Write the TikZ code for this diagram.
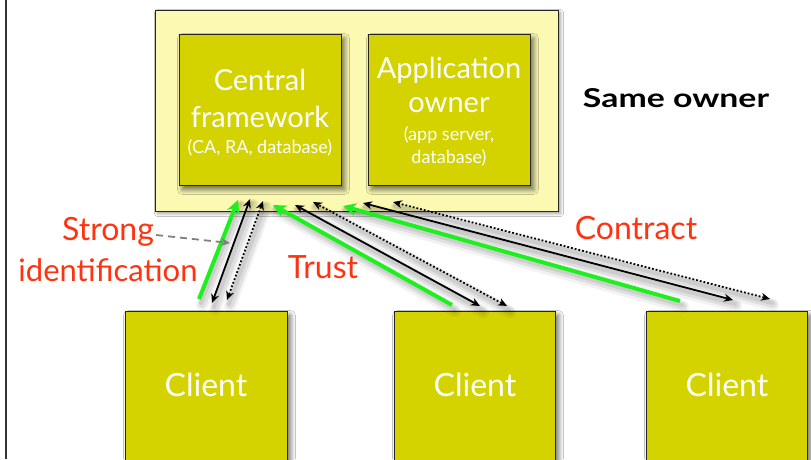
\documentclass[tikz,border=0pt]{standalone}
\usepackage{fontspec}
\setmainfont{Lato}
\usetikzlibrary{arrows.meta,shadows.blur}
\definecolor{boxfill}{HTML}{D4D300}
\definecolor{outerfill}{HTML}{FCF9B3}
\definecolor{lblred}{HTML}{FF3310}
\definecolor{arrgreen}{HTML}{1EF01E}
\begin{document}
\begin{tikzpicture}[x=1pt,y=-1pt,
  outerbox/.style={draw=black!85,line width=1pt,fill=outerfill,inner sep=0,anchor=north west,blur shadow={shadow xshift=2pt,shadow yshift=-2pt,shadow blur radius=3pt,shadow blur steps=6,shadow opacity=40}},
  innerbox/.style={draw=black!85,line width=1pt,fill=boxfill,inner sep=0,anchor=north west,blur shadow={shadow xshift=3pt,shadow yshift=-4pt,shadow blur radius=5pt,shadow blur steps=10,shadow opacity=60}},
  bigtxt/.style={text=white,font=\fontsize{29}{30}\selectfont,inner sep=0},
  smalltxt/.style={text=white,font=\fontsize{18}{19}\selectfont,inner sep=0},
  clienttxt/.style={text=white,font=\fontsize{32}{33}\selectfont,inner sep=0},
  redtxt/.style={text=lblred,font=\fontsize{32}{33}\selectfont,inner sep=0},
  greenarr/.style={draw=arrgreen,line width=4pt,-{Stealth[length=13pt,width=13pt]}},
  blackarr/.style={draw=black,line width=1.8pt,{Stealth[length=9pt,width=8pt]}-{Stealth[length=9pt,width=8pt]}},
  dotarr/.style={draw=black,line width=1.8pt,dotted,{Stealth[length=9pt,width=8pt,line width=0pt]}-{Stealth[length=9pt,width=8pt]}},
  shadowline/.style={draw=black,line width=8pt,opacity=0.08,line cap=round},
]
\useasboundingbox (0,0) rectangle (811,459);
\clip (0,0) rectangle (811,459);
\fill[white] (0,0) rectangle (811,459);
\draw[line width=1.4pt,black!80] (6,0) -- (6,459);

% boxes
\node[outerbox,minimum width=403pt,minimum height=201pt] (own) at (155,10) {};
\node[innerbox,minimum width=162pt,minimum height=151pt] (cf) at (179,34) {};
\node[innerbox,minimum width=162pt,minimum height=151pt] (ao) at (368,34) {};
\node[innerbox,minimum width=162pt,minimum height=170pt] (c1) at (125,311) {};
\node[innerbox,minimum width=161pt,minimum height=170pt] (c2) at (394,311) {};
\node[innerbox,minimum width=161pt,minimum height=170pt] (c3) at (646,311) {};

% texts
\node[bigtxt] (t1) at (260,80) {Central};
\node[bigtxt] (t2) at (260,117) {framework};
\node[smalltxt] (t3) at (260,148) {(CA, RA, database)};
\node[bigtxt] (t4) at (449,70) {Application};
\node[bigtxt] (t5) at (449,105) {owner};
\node[smalltxt] (t6) at (449,135) {(app server,};
\node[smalltxt] (t7) at (449,158) {database)};
\node[clienttxt] (ct1) at (206,385) {Client};
\node[clienttxt] (ct2) at (475,385) {Client};
\node[clienttxt] (ct3) at (727,385) {Client};
\node[inner sep=0,font=\fontsize{26}{27}\selectfont\bfseries] (same) at (676,98) {\scalebox{1.3}[1]{Same owner}};
\node[redtxt] (contract) at (636,228) {Contract};
\node[redtxt] (trust) at (323,267) {Trust};
\node[redtxt] (strong) at (108,232) {Strong};
\node[redtxt,font=\fontsize{31}{32}\selectfont] (ident) at (108,270) {identification};

% connector end points
\coordinate (g1a) at (199,299); \coordinate (g1b) at (238,200);
\coordinate (b1a) at (212,303); \coordinate (b1b) at (250,199);
\coordinate (d1a) at (227,300); \coordinate (d1b) at (263,201);
\coordinate (g2a) at (452,305); \coordinate (g2b) at (273,205);
\coordinate (b2a) at (480,306); \coordinate (b2b) at (295,205);
\coordinate (d2a) at (507,306); \coordinate (d2b) at (313,202);
\coordinate (g3a) at (680,301); \coordinate (g3b) at (343,206);
\coordinate (b3a) at (733,300); \coordinate (b3b) at (363,203);
\coordinate (d3a) at (770,299); \coordinate (d3b) at (393,202);
\coordinate (sidend) at (230,243);

% arrow shadows
\foreach \a/\b in {g1a/g1b,b1a/b1b,d1a/d1b,g2a/g2b,b2a/b2b,d2a/d2b,g3a/g3b,b3a/b3b,d3a/d3b}{
  \draw[shadowline,line width=12pt,opacity=0.05,transform canvas={shift={(3pt,-6pt)}}] (\a) -- (\b);
  \draw[shadowline,transform canvas={shift={(3pt,-5pt)}}] (\a) -- (\b);
  \draw[shadowline,line width=4pt,transform canvas={shift={(2pt,-4pt)}}] (\a) -- (\b);
}

% arrows
\draw[greenarr] (g1a) -- (g1b);
\draw[blackarr] (b1a) -- (b1b);
\draw[dotarr] (d1a) -- (d1b);
\draw[greenarr] (g2a) -- (g2b);
\draw[blackarr] (b2a) -- (b2b);
\draw[dotarr] (d2a) -- (d2b);
\draw[greenarr] (g3a) -- (g3b);
\draw[blackarr] (b3a) -- (b3b);
\draw[dotarr] (d3a) -- (d3b);
\draw[draw=gray,line width=1.8pt,dash pattern=on 7pt off 5pt,-{Stealth[length=9pt,width=8pt]}] (strong.east) ++(2,3) -- (sidend);
\end{tikzpicture}
\end{document}
